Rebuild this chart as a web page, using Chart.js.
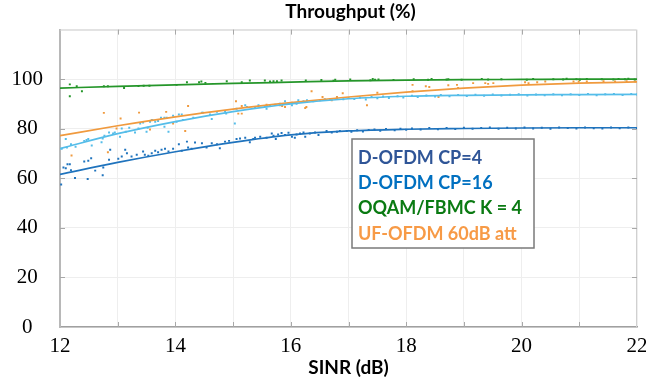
<!DOCTYPE html>
<html>
<head>
<meta charset="utf-8">
<script src="https://cdn.jsdelivr.net/npm/chart.js@4.4.1/dist/chart.umd.min.js"></script>
<style>
  html, body { margin: 0; padding: 0; background: #fff; }
  #wrap { width: 646px; height: 380px; }
</style>
</head>
<body>
<div id="wrap"><canvas id="tp" width="646" height="380"></canvas></div>
<script>
// SINR (dB) grid for the fitted curves
const sinrGrid = [12, 13, 14, 15, 16, 17, 18, 19, 20, 21, 22];
const cp4Fit  = [61.6, 66.4, 70.7, 74.5, 77.5, 79.1, 79.8, 80.1, 80.3, 80.4, 80.4];
const cp16Fit = [72.0, 78.0, 82.9, 86.9, 90.0, 92.1, 93.1, 93.5, 93.7, 93.8, 93.9];
const fbmcFit = [96.4, 97.1, 97.7, 98.3, 98.8, 99.3, 99.6, 99.8, 99.9, 100.0, 100.0];
const ufFit   = [77.2, 81.2, 84.8, 87.9, 90.5, 92.8, 94.8, 96.4, 97.6, 98.4, 98.9];

// measured points [SINR, throughput]
const cp4Points = [
  [12.02,57.5],[12.06,64.4],[12.10,64.1],[12.13,65.7],[12.17,65.7],[12.19,63.3],[12.26,60.1],[12.42,66.8],
  [12.48,59.7],[12.49,67.1],[12.54,68.1],[12.61,63.1],[12.74,61.2],[12.75,64.4],[12.87,71.5],[12.85,67.5],
  [13.01,67.9],[13.07,68.8],[13.13,71.5],[13.16,70.1],[13.24,68.8],[13.33,69.5],[13.44,70.8],[13.47,69.5],
  [13.53,69.1],[13.59,70.1],[13.65,71.1],[13.70,70.5],[13.76,71.5],[13.82,71.9],[13.88,70.8],[13.96,71.9],
  [14.06,73.7],[14.11,71.1],[14.20,74.8],[14.22,72.4],[14.28,71.9],[14.34,74.4],[14.46,74.1],[14.54,72.4],
  [14.63,74.1],[14.72,73.7],[14.77,72.1],[14.86,74.8],[14.93,75.1],[15.06,75.9],[15.12,76.1],[15.21,76.4],
  [15.29,74.5],[15.35,75.9],[15.38,76.4],[15.47,76.8],[15.58,76.4],[15.67,78.1],[15.70,77.2],[15.74,75.9],
  [15.78,77.7],[15.84,78.3],[15.90,77.5],[15.96,78.4],[16.02,76.8],[16.07,76.4],[16.10,77.7],[16.16,78.1],
  [16.22,78.5],[16.25,76.8],[16.33,78.1],[16.42,78.5],[16.48,77.5],[16.62,79.1],[16.71,78.5],[16.80,78.8],
  [16.85,79.1],[16.97,79.1],[17.05,78.8],[17.15,79.4],[17.25,78.9],[17.35,79.5],[17.45,79.7],[17.55,79.2],
  [17.65,79.9],[17.80,79.4],[17.90,80.0],[18.00,79.6],[18.10,80.1],[18.25,79.7],[18.40,80.3],[18.55,79.8],
  [18.70,80.3],[18.85,79.9],[19.00,80.4],[19.15,80.0],[19.30,80.3],[19.45,80.5],[19.60,80.0],[19.75,80.4],
  [19.90,80.1],[20.05,80.5],[20.20,80.1],[20.35,80.4],[20.50,80.0],[20.65,80.5],[20.80,80.3],[20.95,80.1],
  [21.10,80.5],[21.25,80.2],[21.40,80.1],[21.55,80.5],[21.70,80.2],[21.85,80.5],[22.00,80.3]
];
const cp16Points = [
  [12.03,71.9],[12.10,75.9],[12.12,72.4],[12.19,73.7],[12.27,72.7],[12.42,75.1],[12.46,75.5],[12.49,75.9],
  [12.55,73.2],[12.72,74.5],[12.74,76.1],[12.77,77.2],[12.85,78.5],[12.92,78.1],[12.95,78.5],[13.04,76.8],
  [13.07,80.1],[13.14,78.8],[13.20,80.4],[13.30,78.5],[13.36,80.1],[13.39,82.1],[13.44,82.5],[13.50,78.8],
  [13.52,80.4],[13.56,82.8],[13.60,83.5],[13.65,82.8],[13.70,83.1],[13.75,84.4],[13.81,84.4],[13.81,80.8],
  [13.85,84.4],[13.88,78.8],[13.96,85.2],[14.02,82.8],[14.06,85.7],[14.11,85.7],[14.13,83.5],[14.31,84.4],
  [14.46,86.5],[14.48,86.5],[14.60,85.7],[14.63,83.9],[14.72,86.8],[14.86,87.1],[14.88,86.1],[15.03,82.1],
  [15.06,88.1],[15.21,89.5],[15.24,88.8],[15.38,88.4],[15.44,89.5],[15.55,89.2],[15.58,88.1],[15.64,89.2],
  [15.73,89.7],[15.81,90.1],[15.90,91.1],[15.96,90.1],[16.02,89.5],[16.10,90.1],[16.13,91.5],[16.22,91.1],
  [16.28,91.5],[16.39,91.1],[16.51,91.5],[16.59,91.9],[16.68,91.9],[16.80,92.1],[16.91,91.9],[17.00,92.4],
  [17.10,92.0],[17.20,92.6],[17.30,91.8],[17.40,92.8],[17.50,92.3],[17.60,93.0],[17.70,92.4],[17.85,93.1],
  [17.95,92.6],[18.10,93.3],[18.20,92.8],[18.35,93.4],[18.50,93.0],[18.60,93.6],[18.75,93.1],[18.90,93.6],
  [19.05,93.2],[19.20,93.7],[19.35,93.3],[19.50,93.8],[19.65,93.4],[19.80,93.7],[19.95,93.9],[20.10,93.4],
  [20.25,93.8],[20.40,93.5],[20.55,93.9],[20.70,93.5],[20.85,93.9],[21.00,93.6],[21.15,94.0],[21.30,93.5],
  [21.45,93.9],[21.60,94.0],[21.75,93.6],[21.90,94.0],[22.00,93.8]
];
const fbmcPoints = [
  [12.17,97.9],[12.17,93.1],[12.29,97.1],[12.38,95.1],[12.76,97.1],[12.83,97.1],[13.11,96.4],[13.36,97.2],
  [13.45,97.3],[13.55,97.3],[14.02,97.7],[14.20,98.8],[14.41,98.8],[14.45,99.1],[14.52,98.5],[14.89,99.2],
  [15.15,98.8],[15.29,99.5],[15.55,99.5],[15.64,99.1],[15.70,99.2],[15.76,99.2],[15.84,99.5],[16.26,99.5],
  [16.53,99.7],[16.74,99.4],[16.77,99.8],[17.03,99.9],[17.38,99.6],[17.42,100.1],[17.46,99.8],[17.52,99.9],
  [17.78,99.7],[18.13,100.0],[18.38,99.8],[18.44,100.1],[18.70,99.9],[18.73,100.0],[18.96,99.8],[19.31,100.1],
  [19.42,99.9],[19.65,100.0],[20.09,99.8],[20.20,100.1],[20.55,100.0],[20.72,99.9],[20.78,100.2],[20.95,100.0],
  [21.01,99.8],[21.13,100.1],[21.39,100.0],[21.59,99.9],[21.68,100.1],[21.79,100.0],[21.85,100.2],[21.96,99.9]
];
const ufPoints = [
  [12.20,69.2],[12.76,86.4],[12.83,70.5],[12.98,80.1],[13.05,84.1],[13.37,86.5],[13.56,79.7],[13.59,83.5],
  [13.84,86.8],[13.96,82.1],[14.17,79.1],[14.22,89.2],[15.05,91.1],[15.09,86.1],[15.15,86.1],[15.15,89.2],
  [15.58,89.7],[15.81,89.5],[15.85,89.2],[15.90,88.8],[16.02,90.5],[16.25,88.4],[16.27,88.8],[16.36,95.1],
  [16.55,92.8],[16.71,91.5],[16.80,92.8],[16.90,94.3],[17.32,89.5],[17.50,94.5],[18.11,97.7],[18.11,95.1],
  [18.34,97.1],[18.40,96.8],[18.56,92.8],[18.73,97.5],[18.88,97.7],[18.90,96.4],[19.16,98.4],[19.37,98.4],
  [19.42,98.1],[19.51,98.4],[20.06,98.8],[20.12,98.4],[20.27,98.8],[20.41,99.1],[20.90,99.1],[20.99,99.1],
  [21.13,99.1],[21.42,99.2],[21.62,99.1],[21.82,99.2],[21.97,99.1]
];

const seriesNames = ['D-OFDM CP=4', 'D-OFDM CP=16', 'OQAM/FBMC K = 4', 'UF-OFDM 60dB att'];
const lineColors  = ['#1f73bd', '#55bde9', '#25962a', '#f09a3e'];
const labelColors = ['#2f5597', '#0070c0', '#0a7a12', '#f79a46'];

const xy = a => a.map(p => ({ x: p[0], y: p[1] }));
const fit = ys => sinrGrid.map((x, i) => ({ x, y: ys[i] }));

const fits = [cp4Fit, cp16Fit, fbmcFit, ufFit];
const points = [cp4Points, cp16Points, fbmcPoints, ufPoints];

// lines first so they paint over the dots
const datasets = [];
fits.forEach((f, i) => datasets.push({
  type: 'line', label: seriesNames[i], data: fit(f), borderColor: lineColors[i],
  borderWidth: 1.7, pointRadius: 0, cubicInterpolationMode: 'monotone', fill: false
}));
points.forEach((p, i) => datasets.push({
  type: 'scatter', label: seriesNames[i] + ' pts', data: xy(p), backgroundColor: lineColors[i],
  borderWidth: 0, pointStyle: 'rect', pointRadius: 1.4
}));

// frame, inward ticks, title and the boxed legend
const frame = {
  id: 'frame',
  beforeDatasetsDraw(c) {
    const { ctx, chartArea: a, scales: { x, y } } = c;
    ctx.save();
    ctx.strokeStyle = '#d0d0d0';
    ctx.lineWidth = 1;
    ctx.beginPath();
    ctx.moveTo(a.left, a.top + 0.5); ctx.lineTo(a.right - 0.5, a.top + 0.5); ctx.lineTo(a.right - 0.5, a.bottom);
    ctx.stroke();
    ctx.strokeStyle = '#a8a8a8';
    ctx.beginPath();
    for (let v = 20; v < 120; v += 20) {
      const py = Math.round(y.getPixelForValue(v)) + 0.5;
      ctx.moveTo(a.left, py); ctx.lineTo(a.left + 5, py);
      ctx.moveTo(a.right, py); ctx.lineTo(a.right - 5, py);
    }
    for (let v = 13; v < 22; v++) {
      const px = Math.round(x.getPixelForValue(v)) + 0.5;
      ctx.moveTo(px, a.bottom); ctx.lineTo(px, a.bottom - 5);
      ctx.moveTo(px, a.top); ctx.lineTo(px, a.top + 5);
    }
    ctx.stroke();
    ctx.restore();
  },
  afterDraw(c) {
    const { ctx, chartArea: a } = c;
    ctx.save();
    ctx.fillStyle = '#000';
    ctx.font = 'bold 19px Lato';
    ctx.textAlign = 'center';
    ctx.textBaseline = 'middle';
    ctx.fillText('Throughput (%)', (a.left + a.right) / 2 + 2, 12);

    const bx = 352, by = 139, bw = 182, bh = 109;
    ctx.fillStyle = '#fff';
    ctx.fillRect(bx, by, bw, bh);
    ctx.strokeStyle = '#7a7a7a';
    ctx.lineWidth = 1.5;
    ctx.strokeRect(bx, by, bw, bh);
    ctx.font = 'bold 18px Lato';
    ctx.textAlign = 'left';
    seriesNames.forEach((n, i) => {
      ctx.fillStyle = labelColors[i];
      ctx.fillText(n, bx + 6, by + 19 + i * 25.3);
    });
    ctx.restore();
  }
};

new Chart(document.getElementById('tp'), {
  data: { datasets },
  options: {
    responsive: false,
    animation: false,
    layout: { padding: { top: 27, right: 0, left: 0, bottom: 0 } },
    plugins: { legend: { display: false }, tooltip: { enabled: false } },
    scales: {
      x: {
        type: 'linear', min: 12, max: 22,
        afterFit: s => { s.height = 53; s.paddingRight = 9; s.paddingLeft = 0; },
        grid: { color: '#eeeeee', drawTicks: false },
        border: { color: '#a0a0a0', width: 1.5 },
        ticks: {
          stepSize: 1, padding: 7, color: '#000',
          font: { family: 'Liberation Serif', size: 21 },
          callback: v => (v % 2 === 0 ? String(v) : '')
        },
        title: {
          display: true, text: 'SINR (dB)', color: '#000',
          font: { family: 'Lato', size: 19, weight: 'bold' },
          padding: { top: 0, bottom: 1 }
        }
      },
      y: {
        min: 0, max: 120,
        afterFit: s => { s.width = 60; },
        grid: { color: '#eeeeee', drawTicks: false },
        border: { color: '#b8b8b8', width: 2 },
        ticks: {
          stepSize: 20, padding: 17, crossAlign: 'center', color: '#000',
          font: { family: 'Liberation Serif', size: 21 },
          callback: v => (v === 120 ? '' : String(v))
        }
      }
    }
  },
  plugins: [frame]
});
</script>
</body>
</html>
